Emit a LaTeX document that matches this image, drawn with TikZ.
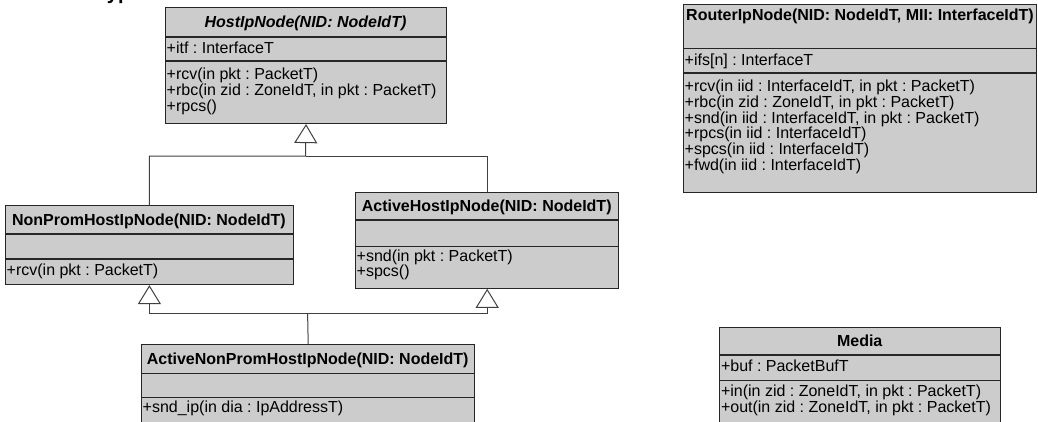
\documentclass[tikz,border=0pt]{standalone}
\usepackage{fontspec}
\setmainfont{Liberation Sans}
\usetikzlibrary{arrows.meta}
\definecolor{classfill}{gray}{0.8}
\frenchspacing

\begin{document}
\begin{tikzpicture}[x=1pt,y=1pt,
cls/.style={draw=black!85,fill=classfill,line width=1.1pt,anchor=north west,inner sep=0pt},
sep/.style={draw=black!85,line width=1.1pt},
ttl/.style={anchor=base,inner sep=0pt,font=\fontsize{16}{16}\selectfont\bfseries},
mem/.style={anchor=base west,inner sep=0pt,font=\fontsize{16}{16}\selectfont},
link/.style={draw=black!75,line width=1pt},
gen/.style={link,-{Triangle[open,length=19pt,width=23pt]}}]
\useasboundingbox (0,0) rectangle (1038,-421);
\node[anchor=base west,inner sep=0pt,font=\fontsize{20}{20}\selectfont\bfseries] (types) at (96,1) {Types};
% host classes
\node[cls,minimum width=281pt,minimum height=115.7pt] (host) at (165,-7.3) {};
\draw[sep] (165,-37) -- ++(281,0) (165,-61) -- ++(281,0);
\node[ttl] (hostT) at (305.5,-27) {\itshape HostIpNode(NID: NodeIdT)};
\node[mem] (hostA) at (166.5,-53.3) {+itf : InterfaceT};
\foreach \t [count=\i from 0] in {{+rcv(in pkt : PacketT)},{+rbc(in zid : ZoneIdT, in pkt : PacketT)},{+rpcs()}}
  \node[mem] (hostM\i) at (166.5,-79.5-15.8*\i) {\t};

\node[cls,minimum width=287.7pt,minimum height=79pt] (npr) at (5,-205) {};
\draw[sep] (5,-234) -- ++(287.7,0) (5,-259) -- ++(287.7,0);
\node[ttl] (nprT) at (148.9,-225) {NonPromHostIpNode(NID: NodeIdT)};
\node[mem] (nprM) at (6.5,-275) {+rcv(in pkt : PacketT)};

\node[cls,minimum width=263.3pt,minimum height=96pt] (ahn) at (355,-191.7) {};
\draw[sep] (355,-220) -- ++(263.3,0) (355,-246.7) -- ++(263.3,0);
\node[ttl] (ahnT) at (486.7,-211.5) {ActiveHostIpNode(NID: NodeIdT)};
\foreach \t [count=\i from 0] in {{+snd(in pkt : PacketT)},{+spcs()}}
  \node[mem] (ahnM\i) at (356.5,-261-15.8*\i) {\t};

\node[cls,minimum width=333.3pt,minimum height=100pt] (anp) at (141,-344.3) {};
\draw[sep] (141,-373.3) -- ++(333.3,0) (141,-397.3) -- ++(333.3,0);
\node[ttl] (anpT) at (307.7,-364.5) {ActiveNonPromHostIpNode(NID: NodeIdT)};
\node[mem] (anpM) at (142.5,-412.5) {+snd\_ip(in dia : IpAddressT)};

% router and media
\node[cls,minimum width=353pt,minimum height=187.5pt] (rip) at (683,-4) {};
\draw[sep] (683,-48.5) -- ++(353,0) (683,-73) -- ++(353,0);
\node[ttl] (ripT) at (860,-20.5) {RouterIpNode(NID: NodeIdT, MII: InterfaceIdT)};
\node[mem] (ripA) at (684.5,-65.5) {+ifs[n] : InterfaceT};
\foreach \t [count=\i from 0] in {{+rcv(in iid : InterfaceIdT, in pkt : PacketT)},{+rbc(in zid : ZoneIdT, in pkt : PacketT)},
    {+snd(in iid : InterfaceIdT, in pkt : PacketT)},{+rpcs(in iid : InterfaceIdT)},{+spcs(in iid : InterfaceIdT)},{+fwd(in iid : InterfaceIdT)}}
  \node[mem] (ripM\i) at (684.5,-91.7-15.7*\i) {\t};

\node[cls,minimum width=280.7pt,minimum height=110pt] (med) at (719.3,-326.7) {};
\draw[sep] (719.3,-355) -- ++(280.7,0) (719.3,-380.7) -- ++(280.7,0);
\node[ttl] (medT) at (859.7,-346.5) {Media};
\node[mem] (medA) at (720.8,-371.7) {+buf : PacketBufT};
\foreach \t [count=\i from 0] in {{+in(in zid : ZoneIdT, in pkt : PacketT)},{+out(in zid : ZoneIdT, in pkt : PacketT)}}
  \node[mem] (medM\i) at (720.8,-396.5-15.5*\i) {\t};

% generalisations
\coordinate (j1) at (305.5,-156);
\coordinate (j2) at (307.6,-313.3);
\draw[gen] (npr.north) |- (j1) -- (host.south);
\draw[link] (ahn.north) |- (j1);
\draw[link] (anp.north) -- (j2);
\draw[gen] (j2) -| (npr.south);
\draw[gen] (j2) -| (ahn.south);
\end{tikzpicture}
\end{document}
